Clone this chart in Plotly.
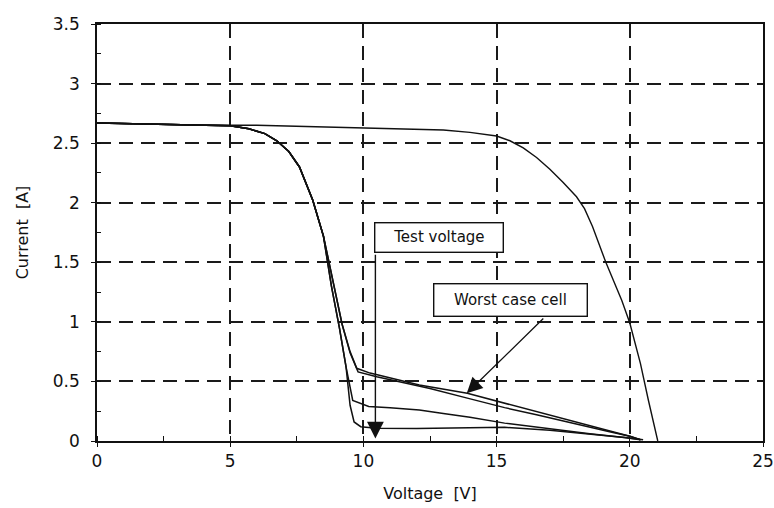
import plotly.graph_objects as go

# ---- data ----
# Unshaded module I-V curve
v_full = [0, 2, 4, 6, 8, 10, 12, 13, 14, 14.6, 15, 15.5, 16, 16.5, 17, 17.5, 18, 18.3, 18.6, 19.1, 19.7, 20.0, 20.4, 20.7, 21.05]
i_full = [2.67, 2.66, 2.65, 2.65, 2.64, 2.63, 2.62, 2.61, 2.59, 2.575, 2.56, 2.52, 2.46, 2.38, 2.28, 2.17, 2.05, 1.95, 1.80, 1.50, 1.18, 0.99, 0.65, 0.34, 0.0]

# Shared (unshaded-cell-limited) first part of the shaded curves
v_common = [0, 1, 2, 3, 4, 5, 5.7, 6.3, 6.75, 7.2, 7.6, 8.1, 8.5]
i_common = [2.67, 2.665, 2.66, 2.655, 2.65, 2.645, 2.62, 2.58, 2.52, 2.43, 2.3, 2.02, 1.72]

# Shaded curve tails
v_worst = [8.85, 9.2, 9.5, 9.75, 10.25, 11.0, 12.1, 13.9, 15.1, 16.5, 18.0, 19.2, 20.0, 20.4]
i_worst = [1.35, 0.98, 0.75, 0.61, 0.57, 0.53, 0.47, 0.40, 0.33, 0.25, 0.16, 0.09, 0.04, 0.01]

v_cell2 = [8.85, 9.2, 9.5, 9.8, 10.5, 11.5, 12.5, 13.9, 15.3, 16.5, 18.0, 19.2, 20.0, 20.4]
i_cell2 = [1.35, 0.98, 0.74, 0.58, 0.54, 0.49, 0.44, 0.36, 0.28, 0.22, 0.14, 0.08, 0.04, 0.01]

v_cell3 = [8.8, 9.1, 9.35, 9.6, 10.2, 11.0, 12.1, 13.0, 14.0, 15.3, 17.0, 18.5, 19.8, 20.4]
i_cell3 = [1.3, 0.95, 0.62, 0.34, 0.29, 0.28, 0.26, 0.23, 0.20, 0.15, 0.10, 0.06, 0.03, 0.01]

v_cell4 = [8.8, 9.1, 9.35, 9.5, 9.65, 9.9, 10.5, 12.0, 14.0, 15.3, 17.0, 18.5, 19.8, 20.5]
i_cell4 = [1.3, 0.95, 0.62, 0.30, 0.16, 0.12, 0.106, 0.105, 0.11, 0.115, 0.09, 0.06, 0.03, 0.01]

x_ticks = [0, 5, 10, 15, 20, 25]
y_ticks = [0, 0.5, 1, 1.5, 2, 2.5, 3, 3.5]
y_tick_text = ["0", "0.5", "1", "1.5", "2", "2.5", "3", "3.5"]

test_voltage = 10.45
worst_tip = (13.88, 0.40)

FONT = "DejaVu Sans"
INK = "#111111"

fig = go.Figure()

fig.add_trace(go.Scatter(x=v_full, y=i_full, mode="lines",
                         line=dict(color=INK, width=1.4),
                         showlegend=False, hoverinfo="skip"))

for vt, it in [(v_worst, i_worst), (v_cell2, i_cell2), (v_cell3, i_cell3), (v_cell4, i_cell4)]:
    fig.add_trace(go.Scatter(x=v_common + vt, y=i_common + it, mode="lines",
                             line=dict(color=INK, width=1.5),
                             showlegend=False, hoverinfo="skip"))

# Annotation boxes
fig.add_annotation(x=12.85, y=1.71, xref="x", yref="y", text="Test voltage",
                   showarrow=False, font=dict(family=FONT, size=15, color=INK),
                   bgcolor="white", bordercolor=INK, borderwidth=1.4,
                   width=123, height=24, borderpad=2)
fig.add_annotation(x=15.53, y=1.186, xref="x", yref="y", text="Worst case cell",
                   showarrow=False, font=dict(family=FONT, size=15, color=INK),
                   bgcolor="white", bordercolor=INK, borderwidth=1.4,
                   width=148, height=27, borderpad=2)

# Arrows
fig.add_annotation(x=test_voltage, y=0.02, ax=test_voltage, ay=1.575,
                   xref="x", yref="y", axref="x", ayref="y", text="",
                   showarrow=True, arrowhead=2, arrowsize=2.4, arrowwidth=1.4,
                   arrowcolor=INK)
fig.add_annotation(x=worst_tip[0], y=worst_tip[1], ax=16.81, ay=1.04,
                   xref="x", yref="y", axref="x", ayref="y", text="",
                   showarrow=True, arrowhead=2, arrowsize=2.4, arrowwidth=1.3,
                   arrowcolor=INK)

axis_common = dict(
    showline=True, linecolor=INK, linewidth=1.5, mirror=True,
    showgrid=True, gridcolor="#1a1a1a", gridwidth=1.6, griddash="14px,8px",
    zeroline=False, ticks="outside", ticklen=4, tickcolor=INK, tickwidth=1.3,
    tickfont=dict(family=FONT, size=17, color=INK),
)

fig.update_xaxes(range=[0, 25], tickvals=x_ticks, ticktext=[str(t) for t in x_ticks],
                 title=dict(text="Voltage  [V]", font=dict(family=FONT, size=16, color=INK), standoff=18),
                 minor=dict(dtick=2.5, ticks="inside", ticklen=5, tickcolor=INK, showgrid=False),
                 **axis_common)
fig.update_yaxes(range=[0, 3.5], tickvals=y_ticks, ticktext=y_tick_text,
                 title=dict(text="Current  [A]", font=dict(family=FONT, size=16, color=INK), standoff=20),
                 minor=dict(dtick=0.25, ticks="inside", ticklen=4, tickcolor=INK, showgrid=False),
                 ticklabelstandoff=8,
                 **axis_common)

fig.update_layout(width=774, height=508,
                  margin=dict(l=97, r=11, t=24, b=67, autoexpand=False),
                  plot_bgcolor="white", paper_bgcolor="white",
                  font=dict(family=FONT, color=INK))

fig.write_html("out.html")
